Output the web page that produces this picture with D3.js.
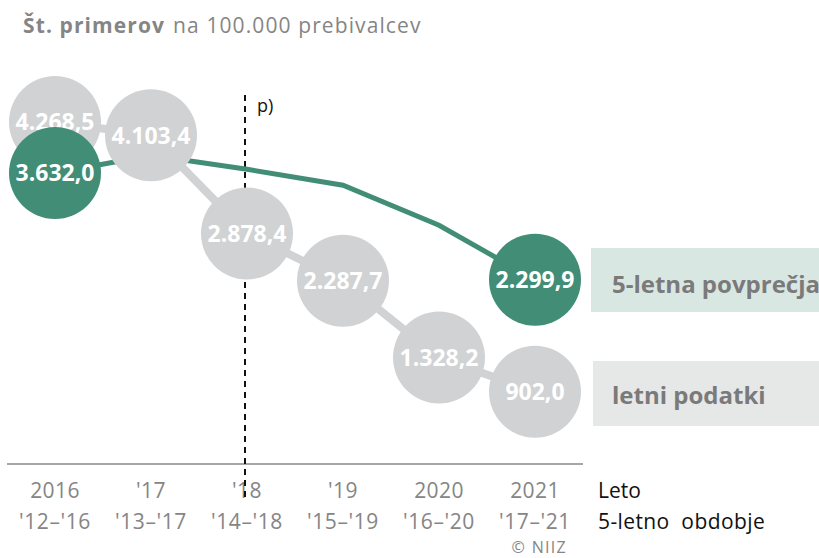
<!DOCTYPE html>
<html>
<head>
<meta charset="utf-8">
<script src="https://cdn.jsdelivr.net/npm/d3@7"></script>
<style>
body{margin:0;background:#fff;}
svg{display:block;font-family:"Open Sans",sans-serif;}
</style>
</head>
<body>
<div id="plot"></div>
<script>
//data
var years = ['2016',"'17","'18","'19",'2020','2021'],
	periods = ["'12–'16","'13–'17","'14–'18","'15–'19","'16–'20","'17–'21"],
	annual = [4268.5,4103.4,2878.4,2287.7,1328.2,902.0],
	avg5 = [3632.0,3853,3678,3479,2980,2299.9];

var W = 819, H = 558;
var GREEN = '#418d76', GREY = '#d1d2d4', TXT = '#858585';

var svg = d3.select('#plot').append('svg')
	.attr('width',W).attr('height',H);

var scaleX = d3.scalePoint().domain(d3.range(6)).range([55,535]),
	scaleY = d3.scaleLinear().domain([0,4268.5]).range([464,122]);

var fmt = function(v){
	var s = d3.format(',.1f')(v);
	return s.replace(/,/g,'#').replace('.',',').replace(/#/g,'.');
};

//title
var title = svg.append('text').attr('x',23).attr('y',33)
	.style('font-size','21px').style('fill',TXT).style('letter-spacing','1.1px');
title.append('tspan').style('font-weight','bold').text('Št. primerov');
title.append('tspan').attr('dx',8).text('na 100.000 prebivalcev');

//axis line
svg.append('line').attr('x1',7).attr('x2',583).attr('y1',464).attr('y2',464)
	.style('stroke','#8a8a8a').style('stroke-width',1.5);

//x labels
svg.selectAll('.yr').data(years).enter().append('text').attr('class','yr')
	.attr('x',function(d,i){return scaleX(i)}).attr('y',498)
	.attr('text-anchor','middle').style('font-size','21px').style('fill',TXT)
	.style('letter-spacing','0.4px')
	.text(function(d){return d});
svg.selectAll('.per').data(periods).enter().append('text').attr('class','per')
	.attr('x',function(d,i){return scaleX(i)}).attr('y',529)
	.attr('text-anchor','middle').style('font-size','21px').style('fill',TXT)
	.style('letter-spacing','0.6px')
	.text(function(d){return d});

svg.append('text').attr('x',598).attr('y',498).style('font-size','21px').style('fill','#111').text('Leto');
svg.append('text').attr('x',598).attr('y',529).style('font-size','21px').style('fill','#111')
	.style('white-space','pre').attr('xml:space','preserve').style('letter-spacing','0.4px').text('5-letno  obdobje');
svg.append('text').attr('x',567).attr('y',553).attr('text-anchor','end')
	.style('font-size','16px').style('fill',TXT).style('letter-spacing','1.3px').text('© NIIZ');

//dashed marker
svg.append('line').attr('x1',245).attr('x2',245).attr('y1',95).attr('y2',500)
	.style('stroke','#111').style('stroke-width',2).style('stroke-dasharray','6,5');
svg.append('text').attr('x',257).attr('y',112).style('font-size','18px').style('fill','#111').text('p)');

//legend boxes
svg.append('rect').attr('x',591).attr('y',248).attr('width',240).attr('height',64).style('fill','#d9e7e3');
svg.append('text').attr('x',612).attr('y',293).style('font-size','24px').style('font-weight','bold')
	.style('fill','#7a7a7a').text('5-letna povprečja');
svg.append('rect').attr('x',593).attr('y',361).attr('width',240).attr('height',65).style('fill','#e6e7e7');
svg.append('text').attr('x',612).attr('y',404).style('font-size','24px').style('font-weight','bold')
	.style('fill','#7a7a7a').text('letni podatki');

//lines
var line = d3.line().x(function(d,i){return scaleX(i)}).y(function(d){return scaleY(d)});
svg.append('path').datum(annual).attr('d',line)
	.style('fill','none').style('stroke',GREY).style('stroke-width',8);
svg.append('path').datum(avg5).attr('d',line)
	.style('fill','none').style('stroke',GREEN).style('stroke-width',5);

//annual circles
var g1 = svg.selectAll('.ann').data(annual).enter().append('g').attr('class','ann')
	.attr('transform',function(d,i){return 'translate('+scaleX(i)+','+scaleY(d)+')'});
g1.append('circle').attr('r',46).style('fill',GREY);
g1.append('text').attr('text-anchor','middle').attr('dy','0.36em')
	.style('font-size','23px').style('font-weight','bold').style('fill','#fff')
	.text(function(d){return fmt(d)});

//5-year average endpoints
var ends = [0,5];
var g2 = svg.selectAll('.avg').data(ends).enter().append('g').attr('class','avg')
	.attr('transform',function(i){return 'translate('+scaleX(i)+','+scaleY(avg5[i])+')'});
g2.append('circle').attr('r',46).style('fill',GREEN);
g2.append('text').attr('text-anchor','middle').attr('dy','0.36em')
	.style('font-size','23px').style('font-weight','bold').style('fill','#fff')
	.text(function(i){return fmt(avg5[i])});
</script>
</body>
</html>
